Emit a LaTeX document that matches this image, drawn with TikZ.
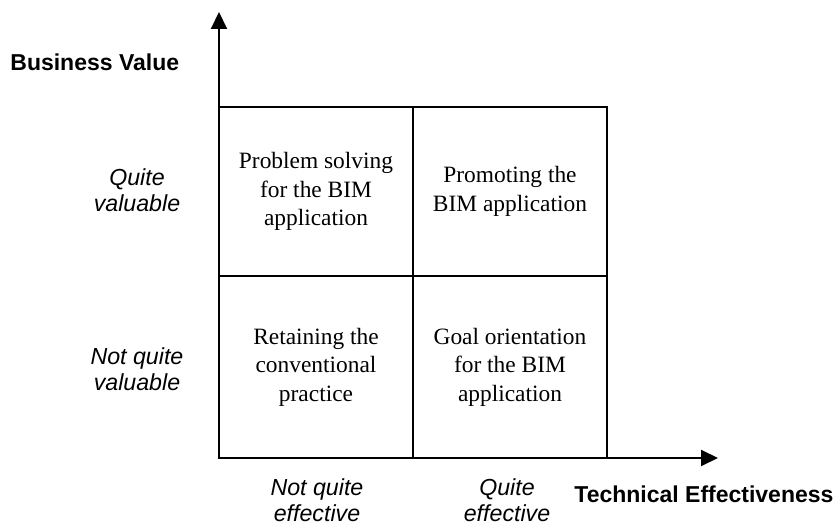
\documentclass[tikz,border=0pt]{standalone}
\usepackage{fontspec}
\setmainfont{Liberation Serif}
\setsansfont{Liberation Sans}
\usetikzlibrary{arrows.meta}

\begin{document}
\begin{tikzpicture}[
    x=0.5pt, y=-0.5pt,
    axis/.style={-{Triangle[length=8.5pt, width=8pt]}, line width=1pt},
    cell/.style={
        rectangle,
        draw=black,
        line width=1pt,
        minimum width=97pt,
        align=center,
        inner sep=0pt,
        font=\fontsize{11.7}{14.3}\selectfont
    },
    topcell/.style={cell, minimum height=84.5pt},
    bottomcell/.style={cell, minimum height=91pt},
    axislabel/.style={font=\fontsize{11.5}{14}\selectfont\sffamily\bfseries, inner sep=0pt},
    level/.style={align=center, inner sep=0pt,
        font=\fontsize{11.6}{13.2}\selectfont\sffamily\itshape}
]
\useasboundingbox (0,0) rectangle (837,524);

% quadrants
\node[topcell] (solving) at (316,191.5) {Problem solving\\for the BIM\\application};
\node[topcell] (promoting) at (510,191.5) {Promoting the\\BIM application};
\node[bottomcell] (retaining) at (316,367) {Retaining the\\conventional\\practice};
\node[bottomcell] (goal) at (510,367) {Goal orientation\\for the BIM\\application};

% axes
\coordinate (origin) at (219,458);
\coordinate (ytip) at (219,12);
\coordinate (xtip) at (718,458);
\draw[axis] (origin) -- (ytip);
\draw[axis] (origin) -- (xtip);

\node[axislabel, anchor=west] (value) at (10,62) {Business Value};
\node[axislabel, anchor=west] (effect) at (574,494) {Technical Effectiveness};

% levels
\node[level] (quitev) at (137,190) {Quite\\valuable};
\node[level] (notv) at (137,369) {Not quite\\valuable};
\node[level] (note) at (317,500) {Not quite\\effective};
\node[level] (quitee) at (507,500) {Quite\\effective};

\end{tikzpicture}
\end{document}
